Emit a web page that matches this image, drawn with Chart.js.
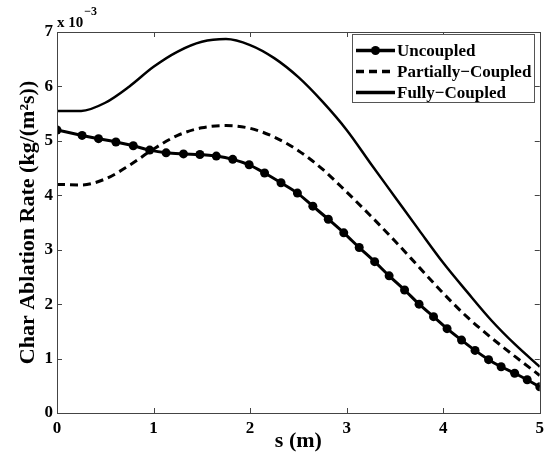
<!DOCTYPE html>
<html>
<head>
<meta charset="utf-8">
<script src="https://cdn.jsdelivr.net/npm/chart.js@4/dist/chart.umd.min.js"></script>
<style>
html,body{margin:0;padding:0;background:#fff;}
#wrap{width:549px;height:459px;}
</style>
</head>
<body>
<div id="wrap"><canvas id="c" width="549" height="459"></canvas></div>
<script>
// s (m) positions of the Uncoupled markers
const sUncoupled = [0,0.26,0.43,0.61,0.79,0.96,1.13,1.31,1.48,1.65,1.82,1.99,2.15,2.32,2.49,2.65,2.81,2.97,3.13,3.29,3.44,3.60,3.75,3.90,4.04,4.19,4.33,4.47,4.60,4.74,4.87,5.0];
// Char ablation rate (x 10^-3 kg/(m^2 s))
const uncoupled = [5.20,5.10,5.04,4.98,4.91,4.83,4.78,4.76,4.75,4.72,4.66,4.56,4.41,4.23,4.04,3.80,3.56,3.31,3.04,2.78,2.52,2.26,2.00,1.77,1.55,1.34,1.15,0.98,0.85,0.73,0.61,0.48];
const sGrid = [0,0.25,0.5,0.75,1.0,1.25,1.5,1.75,2.0,2.25,2.5,2.75,3.0,3.25,3.5,3.75,4.0,4.25,4.5,4.75,5.0];
const partiallyCoupled = [4.20,4.19,4.30,4.55,4.85,5.10,5.24,5.28,5.23,5.07,4.82,4.48,4.06,3.62,3.16,2.68,2.20,1.76,1.38,1.03,0.69];
const fullyCoupled = [5.55,5.55,5.70,6.00,6.36,6.64,6.82,6.87,6.76,6.52,6.17,5.72,5.20,4.58,3.97,3.36,2.76,2.22,1.70,1.25,0.85];
const seriesNames = ['Uncoupled','Partially\u2212Coupled','Fully\u2212Coupled'];
const xTicks = [0,1,2,3,4,5];
const yTicks = [0,1,2,3,4,5,6,7];
const xTitle = 's (m)';
const yTitle = 'Char Ablation Rate (kg/(m\u00B2s))';
const yMultiplier = ['x 10', '\u22123'];

const FONT = '"Liberation Serif", "Times New Roman", serif';

const pts = (xs, ys) => xs.map((x, i) => ({x: x, y: ys[i]}));

const boxAndTicks = {
  id: 'boxAndTicks',
  afterDraw(chart) {
    const ctx = chart.ctx, a = chart.chartArea;
    const xs = chart.scales.x, ys = chart.scales.y;
    ctx.save();
    ctx.strokeStyle = '#444';
    ctx.lineWidth = 1;
    ctx.strokeRect(Math.round(a.left) + 0.5, Math.round(a.top) + 0.5, Math.round(a.right - a.left), Math.round(a.bottom - a.top));
    const L = 5;
    ctx.beginPath();
    xTicks.forEach(v => {
      const px = Math.round(xs.getPixelForValue(v)) + 0.5;
      ctx.moveTo(px, a.bottom); ctx.lineTo(px, a.bottom - L);
      ctx.moveTo(px, a.top); ctx.lineTo(px, a.top + L);
    });
    yTicks.forEach(v => {
      const py = Math.round(ys.getPixelForValue(v)) + 0.5;
      ctx.moveTo(a.left, py); ctx.lineTo(a.left + L, py);
      ctx.moveTo(a.right, py); ctx.lineTo(a.right - L, py);
    });
    ctx.stroke();

    // multiplier
    ctx.fillStyle = '#000';
    ctx.textBaseline = 'alphabetic';
    ctx.textAlign = 'left';
    ctx.font = 'bold 15px ' + FONT;
    ctx.fillText(yMultiplier[0], a.left, 27);
    const w = ctx.measureText(yMultiplier[0]).width;
    ctx.font = 'bold 12px ' + FONT;
    ctx.fillText(yMultiplier[1], a.left + w + 1, 15);

    // legend
    const lx = 352.5, ly = 34.5, lw = 182, lh = 68;
    ctx.fillStyle = '#fff';
    ctx.fillRect(lx, ly, lw, lh);
    ctx.strokeStyle = '#555';
    ctx.strokeRect(lx, ly, lw, lh);
    const rows = [50.5, 71.5, 92.5];
    chart.data.datasets.forEach((ds, i) => {
      const y = rows[i];
      ctx.save();
      ctx.strokeStyle = ds.borderColor;
      ctx.lineWidth = 3.5;
      ctx.setLineDash(ds.borderDash || []);
      ctx.beginPath();
      ctx.moveTo(356, y); ctx.lineTo(395, y);
      ctx.stroke();
      ctx.restore();
      if (ds.pointRadius > 0) {
        ctx.beginPath();
        ctx.fillStyle = ds.pointBackgroundColor;
        ctx.arc(375.5, y, ds.pointRadius, 0, Math.PI * 2);
        ctx.fill();
      }
      ctx.fillStyle = '#000';
      ctx.font = 'bold 17px ' + FONT;
      ctx.textBaseline = 'middle';
      ctx.textAlign = 'left';
      ctx.fillText(ds.label, 397, y + 1);
    });
    ctx.restore();
  }
};

new Chart(document.getElementById('c'), {
  type: 'line',
  data: {
    datasets: [
      {label: seriesNames[0], data: pts(sUncoupled, uncoupled), borderColor: '#000', backgroundColor: '#000',
       borderWidth: 3, pointRadius: 4.5, pointBackgroundColor: '#000', pointBorderWidth: 0, cubicInterpolationMode: 'monotone'},
      {label: seriesNames[1], data: pts(sGrid, partiallyCoupled), borderColor: '#000', borderWidth: 3,
       borderDash: [8, 5], pointRadius: 0, cubicInterpolationMode: 'monotone'},
      {label: seriesNames[2], data: pts(sGrid, fullyCoupled), borderColor: '#000', borderWidth: 2.5,
       pointRadius: 0, cubicInterpolationMode: 'monotone'}
    ]
  },
  options: {
    responsive: false,
    animation: false,
    devicePixelRatio: 1,
    layout: {padding: {top: 32, right: 9, left: 0, bottom: 0}},
    plugins: {legend: {display: false}, tooltip: {enabled: false}},
    scales: {
      x: {
        type: 'linear', min: 0, max: 5,
        afterBuildTicks: s => { s.ticks = xTicks.map(v => ({value: v})); },
        afterFit: s => { s.height = 46; },
        grid: {display: false, drawTicks: false},
        border: {display: false},
        ticks: {color: '#000', font: {family: FONT, size: 17, weight: 'bold'}, padding: 5, maxRotation: 0},
        title: {display: true, text: xTitle, color: '#000', font: {family: FONT, size: 22, weight: 'bold'}, padding: {top: 0, bottom: 4}}
      },
      y: {
        type: 'linear', min: 0, max: 7,
        afterBuildTicks: s => { s.ticks = yTicks.map(v => ({value: v})); },
        afterFit: s => { s.width = 57; },
        grid: {display: false, drawTicks: false},
        border: {display: false},
        ticks: {color: '#000', font: {family: FONT, size: 17, weight: 'bold'}, padding: 4},
        title: {display: true, text: yTitle, color: '#000', font: {family: FONT, size: 22, weight: 'bold'}, padding: {top: 15, bottom: 0}}
      }
    }
  },
  plugins: [boxAndTicks]
});
</script>
</body>
</html>
